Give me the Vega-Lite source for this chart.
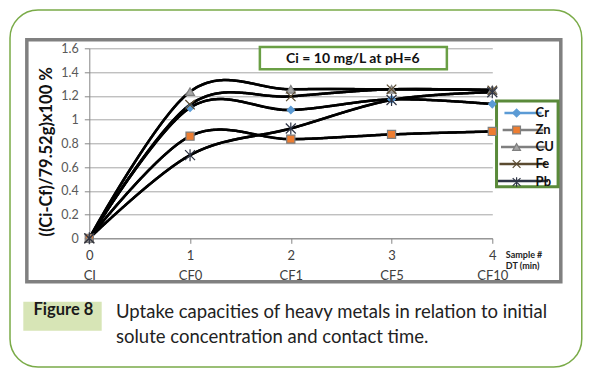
{
  "$schema": "https://vega.github.io/schema/vega-lite/v6.json",
  "width": 403,
  "height": 190,
  "autosize": {"type": "none"},
  "padding": {"left": 89.3, "top": 48.3, "right": 99.7, "bottom": 133.7},
  "background": "white",
  "config": {"view": {"stroke": null}, "font": "Lato"},
  "data": {"values": [
    {"sample": 0, "metal": "Cr", "uptake": 0},
    {"sample": 1, "metal": "Cr", "uptake": 1.10},
    {"sample": 2, "metal": "Cr", "uptake": 1.08},
    {"sample": 3, "metal": "Cr", "uptake": 1.17},
    {"sample": 4, "metal": "Cr", "uptake": 1.13},
    {"sample": 0, "metal": "Zn", "uptake": 0},
    {"sample": 1, "metal": "Zn", "uptake": 0.86},
    {"sample": 2, "metal": "Zn", "uptake": 0.835},
    {"sample": 3, "metal": "Zn", "uptake": 0.875},
    {"sample": 4, "metal": "Zn", "uptake": 0.90},
    {"sample": 0, "metal": "CU", "uptake": 0},
    {"sample": 1, "metal": "CU", "uptake": 1.235},
    {"sample": 2, "metal": "CU", "uptake": 1.255},
    {"sample": 3, "metal": "CU", "uptake": 1.255},
    {"sample": 4, "metal": "CU", "uptake": 1.25},
    {"sample": 0, "metal": "Fe", "uptake": 0},
    {"sample": 1, "metal": "Fe", "uptake": 1.125},
    {"sample": 2, "metal": "Fe", "uptake": 1.195},
    {"sample": 3, "metal": "Fe", "uptake": 1.255},
    {"sample": 4, "metal": "Fe", "uptake": 1.245},
    {"sample": 0, "metal": "Pb", "uptake": 0},
    {"sample": 1, "metal": "Pb", "uptake": 0.70},
    {"sample": 2, "metal": "Pb", "uptake": 0.925},
    {"sample": 3, "metal": "Pb", "uptake": 1.165},
    {"sample": 4, "metal": "Pb", "uptake": 1.23}
  ]},
  "layer": [
    {
      "mark": {"type": "line", "interpolate": "cardinal", "strokeWidth": 2.5, "color": "black"},
      "encoding": {
        "x": {"field": "sample", "type": "quantitative", "scale": {"domain": [0, 4], "nice": false},
          "axis": {"values": [0, 1, 2, 3, 4], "tickCount": 10, "format": "d", "title": null, "grid": false, "domainColor": "#868686", "tickColor": "#868686", "tickSize": 5, "labelPadding": 6, "labelFontSize": 13, "labelColor": "#404040", "labelExpr": "[datum.label, ['CI','CF0','CF1','CF5','CF10'][datum.value]]", "labelLineHeight": 20, "labelBaseline": "top", "labelFlush": false}},
        "y": {"field": "uptake", "type": "quantitative", "scale": {"domain": [0, 1.6], "nice": false},
          "axis": {"values": [0, 0.2, 0.4, 0.6, 0.8, 1, 1.2, 1.4, 1.6], "tickCount": 12, "format": "~g", "labelOverlap": false, "title": "((Ci-Cf)/79.52g)x100 %", "titleFontSize": 16.5, "titleFontWeight": "bold", "titleColor": "#111111", "titleX": -42.6, "titleY": 103, "titleAlign": "center", "titleBaseline": "middle", "titleAngle": 270, "grid": true, "gridColor": "#a6a6a6", "domainColor": "#868686", "tickColor": "#868686", "tickSize": 5, "labelPadding": 6, "labelFontSize": 12.5, "labelColor": "#595959"}},
        "strokeDash": {"field": "metal", "type": "nominal",
          "scale": {"domain": ["Cr", "Zn", "CU", "Fe", "Pb"], "range": [[1, 0], [1, 0], [1, 0], [1, 0], [1, 0]]},
          "legend": {"orient": "right", "offset": -39.5, "padding": 58.2, "title": null, "symbolType": "M-5,0H5", "symbolSize": 36, "symbolStrokeColor": "black", "symbolStrokeWidth": 2.5, "symbolFillColor": "transparent", "labelExpr": "''", "labelFontSize": 13, "labelFontWeight": "bold", "rowPadding": 3, "labelOffset": 8}}
      }
    },
    {
      "data": {"values": [{}]},
      "mark": {"type": "rect", "fillOpacity": 0, "stroke": "#7aab48", "strokeWidth": 1.5, "cornerRadius": 28},
      "encoding": {
        "x": {"datum": -0.787, "type": "quantitative"}, "x2": {"datum": 4.888},
        "y": {"datum": 1.9225, "type": "quantitative"}, "y2": {"datum": -1.084}
      }
    },
    {
      "data": {"values": [{}]},
      "mark": {"type": "rect", "fillOpacity": 0, "stroke": "#808080", "strokeWidth": 3.5},
      "encoding": {
        "x": {"datum": -0.62, "type": "quantitative"}, "x2": {"datum": 4.68},
        "y": {"datum": 1.672, "type": "quantitative"}, "y2": {"datum": -0.366}
      }
    },
    {
      "data": {"values": [{}]},
      "mark": {"type": "rect", "fill": "white", "stroke": "#6a9f45", "strokeWidth": 2.5},
      "encoding": {
        "x": {"datum": 1.693, "type": "quantitative"}, "x2": {"datum": 3.549},
        "y": {"datum": 1.611, "type": "quantitative"}, "y2": {"datum": 1.423}
      }
    },
    {
      "data": {"values": [{}]},
      "mark": {"type": "text", "text": "Ci = 10 mg/L at pH=6", "fontWeight": "bold", "fontSize": 14, "color": "#111111", "align": "center", "baseline": "middle"},
      "encoding": {
        "x": {"datum": 2.616, "type": "quantitative"},
        "y": {"datum": 1.507, "type": "quantitative"}
      }
    },
    {
      "data": {"values": [{}]},
      "mark": {"type": "rect", "fill": "white", "stroke": "#5a8a3a", "strokeWidth": 3},
      "encoding": {
        "x": {"datum": 4.042, "type": "quantitative"}, "x2": {"datum": 4.653},
        "y": {"datum": 1.156, "type": "quantitative"}, "y2": {"datum": 0.4345}
      }
    },
    {
      "data": {"values": [{}]},
      "mark": {"type": "rect", "fill": "#d7e5b6"},
      "encoding": {
        "x": {"datum": -0.655, "type": "quantitative"}, "x2": {"datum": 0.123},
        "y": {"datum": -0.534, "type": "quantitative"}, "y2": {"datum": -0.778}
      }
    },
    {
      "data": {"values": [{}]},
      "mark": {"type": "text", "text": "Figure 8", "fontWeight": "bold", "fontSize": 16.5, "color": "#1a1a1a", "align": "center", "baseline": "middle"},
      "encoding": {
        "x": {"datum": -0.257, "type": "quantitative"},
        "y": {"datum": -0.6, "type": "quantitative"}
      }
    },
    {
      "data": {"values": [{}]},
      "mark": {"type": "text", "text": "Uptake capacities of heavy metals in relation to initial", "fontSize": 18.5, "color": "#222222", "align": "left", "baseline": "alphabetic"},
      "encoding": {
        "x": {"datum": 0.265, "type": "quantitative"},
        "y": {"datum": -0.671, "type": "quantitative"}
      }
    },
    {
      "data": {"values": [{}]},
      "mark": {"type": "text", "text": "solute concentration and contact time.", "fontSize": 18.5, "color": "#222222", "align": "left", "baseline": "alphabetic"},
      "encoding": {
        "x": {"datum": 0.265, "type": "quantitative"},
        "y": {"datum": -0.882, "type": "quantitative"}
      }
    },
    {
      "data": {"values": [{}]},
      "mark": {"type": "text", "text": "Sample #", "fontSize": 9, "fontWeight": "bold", "color": "#222222", "align": "left", "baseline": "middle"},
      "encoding": {
        "x": {"datum": 4.134, "type": "quantitative"},
        "y": {"datum": -0.141, "type": "quantitative"}
      }
    },
    {
      "data": {"values": [{}]},
      "mark": {"type": "text", "text": "DT  (min)", "fontSize": 9, "fontWeight": "bold", "color": "#222222", "align": "left", "baseline": "middle"},
      "encoding": {
        "x": {"datum": 4.134, "type": "quantitative"},
        "y": {"datum": -0.233, "type": "quantitative"}
      }
    },
    {
      "mark": {"type": "line", "interpolate": "cardinal", "strokeWidth": 2.5, "color": "black"},
      "encoding": {
        "x": {"field": "sample", "type": "quantitative"},
        "y": {"field": "uptake", "type": "quantitative"},
        "detail": {"field": "metal", "type": "nominal"}
      }
    },
    {
      "mark": {"type": "point", "filled": true, "strokeWidth": 1.2, "opacity": 1},
      "encoding": {
        "x": {"field": "sample", "type": "quantitative"},
        "y": {"field": "uptake", "type": "quantitative"},
        "shape": {"field": "metal", "type": "nominal",
          "scale": {"domain": ["Cr", "Zn", "CU", "Fe", "Pb"], "range": ["diamond", "square", "triangle-up", "M-1,-1L1,1M-1,1L1,-1", "M-1,-1L1,1M-1,1L1,-1M0,-1.2L0,1.2"]},
          "legend": {"orient": "none", "legendX": 420.8, "legendY": 58.2, "title": null, "symbolSize": 60, "symbolStrokeWidth": 1.2, "labelFontSize": 13, "labelFontWeight": "bold", "labelColor": "#111111", "rowPadding": 3, "padding": 0, "labelOffset": 12.5}},
        "fill": {"field": "metal", "type": "nominal",
          "scale": {"domain": ["Cr", "Zn", "CU", "Fe", "Pb"], "range": ["#5b9bd5", "#ed7d31", "#a5a5a5", "transparent", "transparent"]}},
        "stroke": {"field": "metal", "type": "nominal",
          "scale": {"domain": ["Cr", "Zn", "CU", "Fe", "Pb"], "range": ["#5b9bd5", "#7f7f7f", "#7f7f7f", "#5a4a30", "#2e3445"]}},
        "size": {"field": "metal", "type": "nominal",
          "scale": {"domain": ["Cr", "Zn", "CU", "Fe", "Pb"], "range": [55, 100, 75, 50, 60]}, "legend": null}
      }
    }
  ]
}
